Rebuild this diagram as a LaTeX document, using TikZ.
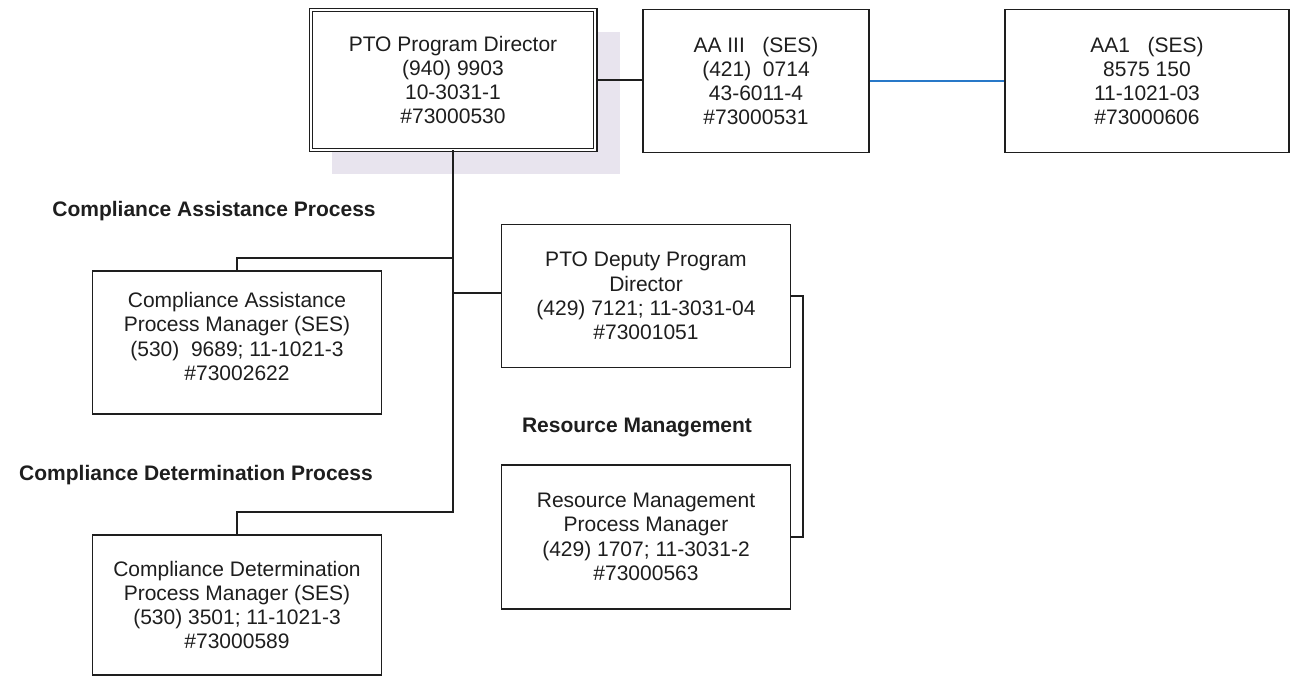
\documentclass[tikz,border=0pt]{standalone}
\usepackage{fontspec}
\setmainfont{Liberation Sans}
\definecolor{shadowtint}{RGB}{232,228,238}
\definecolor{linkblue}{RGB}{40,120,200}
\definecolor{ink}{RGB}{30,30,30}
\begin{document}
\begin{tikzpicture}[x=1pt,y=-1pt,
  every node/.style={font=\fontsize{21}{24.3}\selectfont, align=center, inner sep=0pt, text=ink},
  post/.style={draw=ink, line width=1.5pt, fill=white, minimum width=289pt, minimum height=143pt},
  headpost/.style={draw=ink, fill=white, line width=1.1pt, double, double distance=2.2pt,
                   minimum width=284.6pt, minimum height=139.6pt},
  caption/.style={font=\fontsize{21}{24.3}\selectfont\bfseries},
  link/.style={draw=ink, line width=1.8pt},
  bluelink/.style={draw=linkblue, line width=1.8pt}
]
\useasboundingbox (0,0) rectangle (1293,677);

% drop shadow behind the director box
\fill[shadowtint] (332,32) rectangle (620,174);

% boxes
\node[headpost] (top) at (453,80) {PTO Program Director\\(940) 9903\\10-3031-1\\\#73000530};
\node[post, minimum width=226pt] (aa3) at (756,81) {AA III\ \ \ (SES)\\(421)\ \ 0714\\43-6011-4\\\#73000531};
\node[post, minimum width=284pt] (aa1) at (1147,81) {AA1\ \ \ (SES)\\8575 150\\11-1021-03\\\#73000606};
\node[post] (deputy) at (646,296) {PTO Deputy Program\\Director\\(429) 7121; 11-3031-04\\\#73001051};
\node[post] (ca) at (237,342.5) {};
\node (caText) at ([yshift=6pt]ca.center) {Compliance Assistance\\Process Manager (SES)\\(530)\ \ 9689; 11-1021-3\\\#73002622};
\node[post, minimum height=144pt] (rm) at (646,537) {Resource Management\\Process Manager\\(429) 1707; 11-3031-2\\\#73000563};
\node[post, minimum height=140pt] (cd) at (237,605) {Compliance Determination\\Process Manager (SES)\\(530) 3501; 11-1021-3\\\#73000589};

% section captions
\node[caption] (capCA) at (214,211) {Compliance Assistance Process};
\node[caption] (capCD) at (196,475) {Compliance Determination Process};
\node[caption] (capRM) at (637,427) {Resource Management};

% junctions on the trunk line
\coordinate (trunkA) at (453,258);
\coordinate (trunkB) at (453,293);
\coordinate (trunkC) at (453,512);

% connectors
\draw[link] (top.east) -- (top.east -| aa3.west);
\draw[bluelink] (aa3.east) -- (aa1.west);
\draw[link] (top.south) -- (trunkC) -| (cd.north);
\draw[link] (trunkA) -| (ca.north);
\draw[link] (trunkB) -- (trunkB -| deputy.west);
\draw[link] (deputy.east) -- ++(12,0) |- (rm.east);
\end{tikzpicture}
\end{document}
